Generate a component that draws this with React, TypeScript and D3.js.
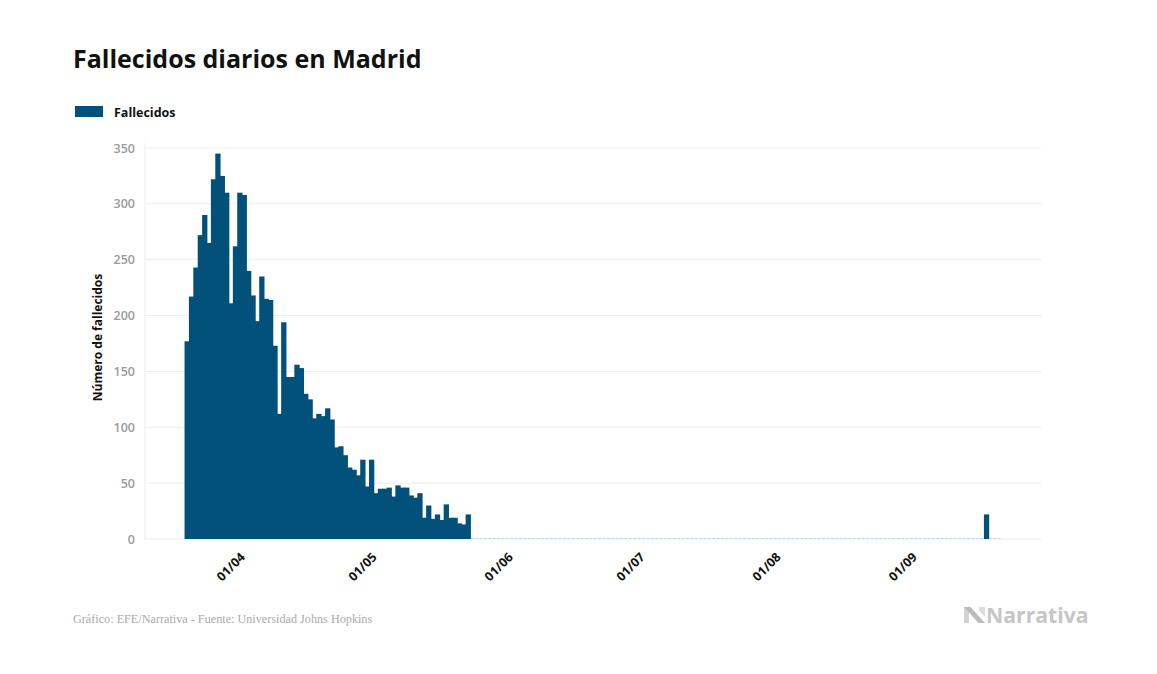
import React from "react";
import * as d3 from "d3";

const title = "Fallecidos diarios en Madrid";
const seriesName = "Fallecidos";
const yAxisTitle = "Número de fallecidos";
const sourceText = "Gráfico: EFE/Narrativa - Fuente: Universidad Johns Hopkins";
const brand = "Narrativa";

const startDate = "2020-03-19";
const values: number[] = [
  177, 217, 243, 272, 290, 265, 322, 345, 325, 310,
  211, 262, 310, 308, 240, 218, 195, 235, 215, 214,
  173, 112, 194, 145, 145, 156, 153, 130, 125, 108,
  112, 110, 117, 107, 82, 83, 75, 64, 62, 57,
  71, 47, 71, 41, 45, 45, 46, 38, 48, 46,
  46, 39, 37, 41, 19, 30, 18, 22, 17, 31,
  19, 19, 14, 13, 22,
  0, 0, 0, 0, 0, 0, 0, 0, 0, 0,
  0, 0, 0, 0, 0, 0, 0, 0, 0, 0,
  0, 0, 0, 0, 0, 0, 0, 0, 0, 0,
  0, 0, 0, 0, 0, 0, 0, 0, 0, 0,
  0, 0, 0, 0, 0, 0, 0, 0, 0, 0,
  0, 0, 0, 0, 0, 0, 0, 0, 0, 0,
  0, 0, 0, 0, 0, 0, 0, 0, 0, 0,
  0, 0, 0, 0, 0, 0, 0, 0, 0, 0,
  0, 0, 0, 0, 0, 0, 0, 0, 0, 0,
  0, 0, 0, 0, 0, 0, 0, 0, 0, 0,
  0, 0, 0, 0, 0, 0, 0, 0, 0, 0,
  0, 0, 0, 0, 0, 0, 0,
  22,
  0, 0, 0,
];

const xDomain = ["2020-03-10", "2020-09-30"];
const tickDates = ["2020-04-01", "2020-05-01", "2020-06-01", "2020-07-01", "2020-08-01", "2020-09-01"];
const tickLabels = ["01/04", "01/05", "01/06", "01/07", "01/08", "01/09"];
const yTicks = [0, 50, 100, 150, 200, 250, 300, 350];

const W = 1157;
const H = 674;
const BAR = "#02517b";

export default function App() {
  const parse = (s: string) => new Date(s + "T00:00:00Z");
  const x = d3.scaleUtc().domain(xDomain.map(parse)).range([145, 1041]);
  const y = d3.scaleLinear().domain([0, 350]).range([539, 148]);
  const start = parse(startDate);
  const data = values.map((v, i) => ({ date: d3.utcDay.offset(start, i), v }));
  const sans = "'Open Sans', Lato, sans-serif";

  return (
    <svg width={W} height={H} style={{ position: "absolute", left: 0, top: 0, background: "#fff" }}>
      <text x={73} y={68} fontFamily={sans} fontWeight={700} fontSize={25} fill="#111">{title}</text>

      <rect x={75} y={106} width={28} height={11} fill={BAR} />
      <text x={114} y={117} fontFamily={sans} fontWeight={700} fontSize={12.5} fill="#111">{seriesName}</text>

      {yTicks.map((t) => (
        <g key={t}>
          <line x1={145} x2={1041} y1={y(t)} y2={y(t)} stroke="#ececec" strokeWidth={1} />
          <text x={135} y={y(t) + 4.5} textAnchor="end" fontFamily={sans} fontWeight={600} fontSize={12.5} fill="#9a9a9a">{t}</text>
        </g>
      ))}
      <line x1={145} x2={145} y1={143} y2={539} stroke="#ececec" strokeWidth={1} />

      <text transform={`translate(102,337.5) rotate(-90)`} textAnchor="middle" fontFamily={sans} fontWeight={700} fontSize={12} fill="#111">{yAxisTitle}</text>

      {data.map((d, i) => {
        const x0 = x(d.date);
        const x1 = x(d3.utcDay.offset(d.date, 1));
        if (d.v === 0) {
          return <line key={i} x1={x0 + 0.8} x2={x1 - 0.8} y1={y(0) - 0.5} y2={y(0) - 0.5} stroke="#c6d5e0" strokeWidth={1} />;
        }
        return (
          <rect key={i} x={x0} y={y(d.v)} width={x1 - x0 + 0.9} height={y(0) - y(d.v)} fill={BAR} />
        );
      })}

      {tickDates.map((t, i) => {
        const d = parse(t);
        const cx = x(d) + (x(d3.utcDay.offset(d, 1)) - x(d)) / 2;
        return (
          <text key={t} transform={`translate(${cx + 2},${558}) rotate(-45)`} textAnchor="end" fontFamily={sans} fontWeight={700} fontSize={12.5} fill="#111">{tickLabels[i]}</text>
        );
      })}

      <text x={73} y={623} fontFamily="'Liberation Serif', 'DejaVu Serif', serif" fontSize={12.2} fill="#aaaaaa">{sourceText}</text>

      <g>
        <polygon points="964,607 969,607 969,623 964,623" fill="#d2d2d2" />
        <polygon points="964,607 970.5,607 985,623 978.5,623" fill="#bcbcbc" />
        <polygon points="979,607 985,607 985,617 979,610.5" fill="#dcdcdc" />
        <text x={986} y={623} fontFamily={sans} fontWeight={700} fontSize={21.2} fill="#c6c6c6">{brand}</text>
      </g>
    </svg>
  );
}
